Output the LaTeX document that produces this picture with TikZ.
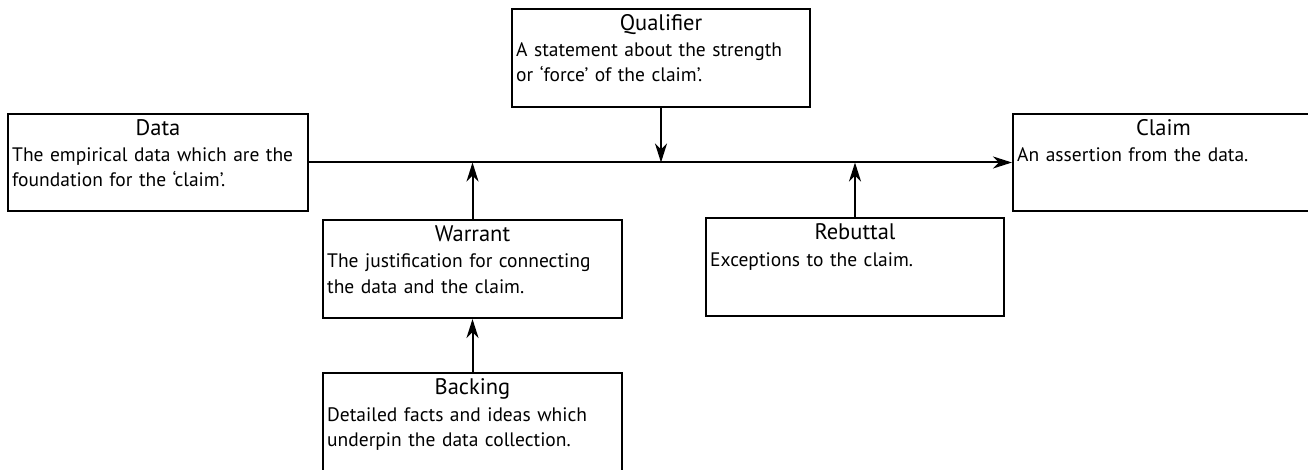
\documentclass[tikz,border=0pt]{standalone}
\usepackage{fontspec}
\setmainfont{PT Sans}
\usetikzlibrary{arrows.meta}
\tikzset{
  box/.style={draw=black, line width=2pt, rectangle, inner sep=0pt},
  ttl/.style={anchor=base, inner sep=0pt, font=\fontsize{22.5pt}{27pt}\selectfont},
  bodytxt/.style={anchor=base west, inner sep=0pt, align=left, text width=295pt, font=\fontsize{19.5pt}{25pt}\selectfont},
  conn/.style={line width=2pt, -{Stealth[length=19pt,width=12pt,inset=6pt]}}
}
\begin{document}
\begin{tikzpicture}[x=1pt,y=-1pt]
\useasboundingbox (0,0) rectangle (1308,470);
\clip (0,0) rectangle (1308,470);
% boxes
\node[box, minimum width=298pt, minimum height=98pt] (qual) at (661,58) {};
\node[box, minimum width=300pt, minimum height=97pt] (data) at (158,162.5) {};
\node[box, minimum width=317pt, minimum height=97pt] (claim) at (1171.5,162.5) {};
\node[box, minimum width=299pt, minimum height=98pt] (warrant) at (472.5,269) {};
\node[box, minimum width=298pt, minimum height=98pt] (rebuttal) at (855,267) {};
\node[box, minimum width=299pt, minimum height=120pt] (backing) at (472.5,433) {};
% titles
\node[ttl] (qualT) at ([yshift=-23pt]qual.north) {Qualifier};
\node[ttl] (dataT) at ([yshift=-22.5pt]data.north) {Data};
\node[ttl] (claimT) at ([yshift=-22.5pt,xshift=-8pt]claim.north) {Claim};
\node[ttl] (warrantT) at ([yshift=-22.5pt]warrant.north) {Warrant};
\node[ttl] (rebuttalT) at ([yshift=-22.5pt]rebuttal.north) {Rebuttal};
\node[ttl] (backingT) at ([yshift=-22.5pt]backing.north) {Backing};
% bodies
\node[bodytxt] (qualB) at ([xshift=5pt,yshift=-49pt]qual.north west) {A statement about the strength\\or ‘force’ of the claim’.};
\node[bodytxt] (dataB) at ([xshift=5pt,yshift=-49pt]data.north west) {The empirical data which are the\\foundation for the ‘claim’.};
\node[bodytxt] (claimB) at ([xshift=5pt,yshift=-49pt]claim.north west) {An assertion from the data.};
\node[bodytxt] (warrantB) at ([xshift=5pt,yshift=-49pt]warrant.north west) {The justification for connecting\\the data and the claim.};
\node[bodytxt] (rebuttalB) at ([xshift=5pt,yshift=-49pt]rebuttal.north west) {Exceptions to the claim.};
\node[bodytxt] (backingB) at ([xshift=5pt,yshift=-49pt]backing.north west) {Detailed facts and ideas which\\underpin the data collection.};
% connectors
\coordinate (qmeet) at (qual.south |- data.east);
\coordinate (wmeet) at (warrant.north |- data.east);
\coordinate (rmeet) at (rebuttal.north |- data.east);
\draw[conn] (data.east) -- (claim.west);
\draw[conn] (qual.south) -- (qmeet);
\draw[conn] (warrant.north) -- (wmeet);
\draw[conn] (rebuttal.north) -- (rmeet);
\draw[conn] (backing.north) -- (warrant.south);
\end{tikzpicture}
\end{document}
